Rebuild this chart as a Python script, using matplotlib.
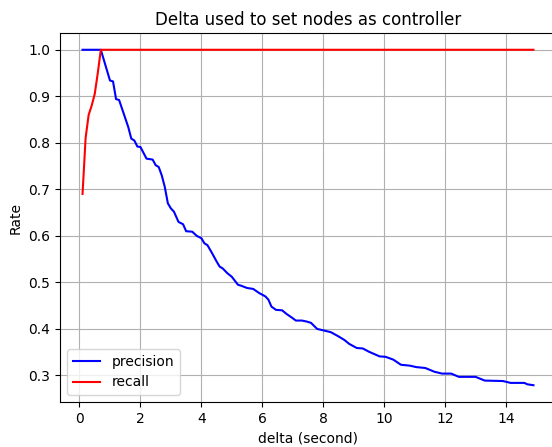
import numpy as np
import matplotlib
matplotlib.use("Agg")
import matplotlib.pyplot as plt

# precision curve, vertices
prec_x = [0.1, 0.7, 1.0, 1.1, 1.2, 1.3, 1.6, 1.7, 1.8, 1.9,
          2.0, 2.2, 2.4, 2.5, 2.6, 2.7, 2.8, 2.9, 3.0, 3.1,
          3.25, 3.4, 3.5, 3.7, 3.85, 4.0, 4.1, 4.2, 4.35, 4.5,
          4.6, 4.7, 4.85, 5.0, 5.2, 5.3, 5.5, 5.7, 5.9, 6.1,
          6.2, 6.3, 6.45, 6.65, 6.8, 7.0, 7.1, 7.3, 7.45, 7.6,
          7.8, 8.0, 8.25, 8.5, 8.7, 8.85, 9.1, 9.3, 9.5, 9.85,
          10.05, 10.3, 10.55, 10.85, 11.05, 11.35, 11.65, 11.9, 12.2, 12.45,
          13.0, 13.3, 13.9, 14.15, 14.6, 14.7, 14.9]
prec_y = [1.0, 1.0, 0.934, 0.932, 0.894, 0.892, 0.834, 0.809, 0.805, 0.792,
          0.791, 0.766, 0.764, 0.752, 0.748, 0.730, 0.705, 0.67, 0.659, 0.652,
          0.630, 0.625, 0.610, 0.609, 0.600, 0.595, 0.584, 0.580, 0.563, 0.545,
          0.534, 0.530, 0.520, 0.512, 0.495, 0.493, 0.488, 0.486, 0.477, 0.470,
          0.463, 0.448, 0.441, 0.440, 0.432, 0.423, 0.418, 0.418, 0.416, 0.413,
          0.400, 0.397, 0.393, 0.384, 0.376, 0.368, 0.359, 0.358, 0.351, 0.341,
          0.340, 0.334, 0.323, 0.321, 0.318, 0.316, 0.308, 0.304, 0.304, 0.297,
          0.297, 0.289, 0.288, 0.284, 0.284, 0.281, 0.279]

# recall curve
rec_x = [0.1, 0.2, 0.3, 0.4, 0.5, 0.6, 0.7, 14.9]
rec_y = [0.69, 0.81, 0.86, 0.88, 0.905, 0.95, 1.0, 1.0]

fig = plt.figure(figsize=(5.52, 4.47), dpi=100)
ax = fig.add_axes([60 / 552, 45 / 447, 496 / 552, 369 / 447])

ax.plot(prec_x, prec_y, color="blue", label="precision")
ax.plot(rec_x, rec_y, color="red", label="recall")

ax.set_title("Delta used to set nodes as controller")
ax.set_xlabel("delta (second)")
ax.set_ylabel("Rate")
ax.grid(True)
ax.legend(loc="lower left")

fig.savefig("out.png", dpi=100)
